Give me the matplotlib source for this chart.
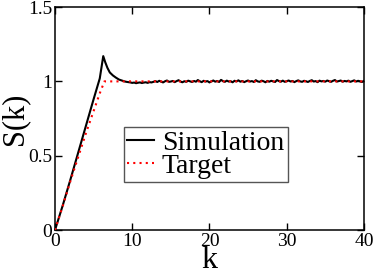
import numpy as np
import matplotlib
matplotlib.use("Agg")
import matplotlib.pyplot as plt

plt.rcParams['font.family'] = ['Liberation Serif', 'DejaVu Serif']

# Simulation: rising part + peak
sim_k_head = [0, 1, 2, 3, 4, 5, 5.8, 6.25, 6.5, 6.8, 7.1, 7.5, 7.9, 8.3, 8.7]
sim_s_head = [0, 0.165, 0.34, 0.52, 0.70, 0.88, 1.02, 1.17, 1.13, 1.09, 1.06,
              1.04, 1.025, 1.012, 1.005]

# Simulation: noisy tail, sampled every 0.25 starting at k = 9
sim_s_tail = [
    1.000, 0.997, 0.995, 0.993, 0.990, 0.992, 0.988, 0.991, 0.993, 0.989,
    0.992, 0.994, 0.990, 0.995, 0.993, 0.997,
    1.002, 0.996, 1.004, 0.998, 0.993, 1.001, 1.006, 0.997, 0.999, 1.003,
    0.995, 1.002, 1.008, 0.999, 0.994, 1.001, 0.997, 1.005, 1.000, 0.996,
    1.003, 0.998, 1.009, 1.001, 0.995, 1.004, 0.999, 1.002, 0.993, 1.000,
    1.006, 0.998, 1.003, 0.996, 1.010, 1.002, 0.997, 1.005, 0.999, 1.001,
    0.994, 1.004, 1.000, 1.007, 0.998, 1.003, 0.995, 1.001, 1.006, 0.999,
    1.002, 0.996, 1.008, 1.000, 0.997, 1.005, 1.001, 0.994, 1.003, 0.998,
    1.004, 1.000, 0.996, 1.009, 1.002, 0.998, 1.005, 0.997, 1.001, 1.006,
    0.999, 1.003, 0.995, 1.002, 1.007, 1.000, 0.997, 1.004, 1.001, 0.996,
    1.003, 1.008, 0.999, 1.002, 0.995, 1.005, 1.000, 1.003, 0.998, 1.006,
    1.001, 0.997, 1.004, 1.009, 0.999, 1.002, 1.006, 0.998, 1.003, 1.000,
    1.005, 0.997, 1.002, 1.007, 0.999, 1.004, 1.000, 0.996, 1.003,
]
sim_k_tail = 9 + 0.25 * np.arange(len(sim_s_tail))

sim_k = np.concatenate([sim_k_head, sim_k_tail])
sim_s = np.concatenate([sim_s_head, sim_s_tail])

# Target
target_k = [0, 1, 2, 3, 4, 5, 5.8, 6.4, 40]
target_s = [0, 0.16, 0.33, 0.49, 0.65, 0.80, 0.92, 1.0, 1.0]

x_ticks = [0, 10, 20, 30, 40]
y_ticks = [0, 0.5, 1, 1.5]
y_ticklabels = ['0', '0.5', '1', '1.5']

fig = plt.figure(figsize=(3.74, 2.71), dpi=100)
ax = fig.add_axes([0.147, 0.151, 0.826, 0.823])

ax.plot(sim_k, sim_s, color='black', lw=1.5, label='Simulation', zorder=2)
ax.plot(target_k, target_s, color='#ff0000', lw=1.5, linestyle=(0, (1, 2)),
        label='Target', zorder=3)

ax.set_xlim(0, 40)
ax.set_ylim(0, 1.5)
ax.set_xticks(x_ticks)
ax.set_yticks(y_ticks)
ax.set_yticklabels(y_ticklabels)
ax.tick_params(direction='in', length=5, width=1, top=True, right=True,
               labelsize=14, pad=2)
for sp in ax.spines.values():
    sp.set_linewidth(1.1)

ax.set_xlabel('k', fontsize=23, labelpad=-2.5)
ax.set_ylabel('S(k)', fontsize=22, labelpad=-1)

leg = ax.legend(loc='upper left', bbox_to_anchor=(0.223, 0.462), fontsize=20,
                frameon=True, fancybox=False, framealpha=1, borderpad=0.12,
                labelspacing=-0.08, handlelength=0.95, handletextpad=0.3,
                borderaxespad=0)
leg.get_frame().set_edgecolor('#555555')
leg.get_frame().set_linewidth(1.0)

fig.savefig('out.png', dpi=100)
